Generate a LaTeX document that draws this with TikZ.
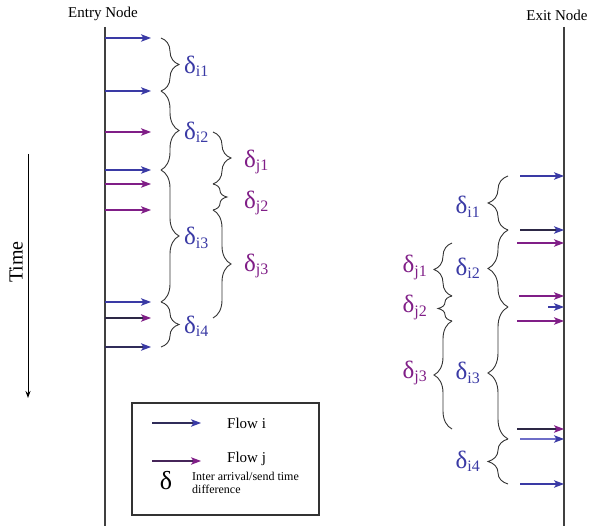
\documentclass[tikz,border=0pt]{standalone}
\usepackage{fontspec}
\setmainfont{Liberation Serif}
\usetikzlibrary{arrows.meta,decorations.pathreplacing,calc}
\definecolor{fi}{RGB}{58,58,165}
\definecolor{fj}{RGB}{128,30,135}
\definecolor{dk}{RGB}{45,40,70}
\definecolor{lb}{RGB}{110,110,200}
\newcommand\dsub[1]{\fontsize{25}{25}\selectfont δ\raisebox{-3.5pt}{\fontsize{16}{16}\selectfont #1}}
\begin{document}
\begin{tikzpicture}[x=1pt,y=-1pt,
  axis/.style={line width=1.2pt,draw=black!75},
  ar/.style={line width=1.1pt,-{Stealth[length=10pt,width=7.5pt,inset=2.5pt]}},
  ari/.style={ar,draw=fi},
  arj/.style={ar,draw=fj},
  bri/.style={decorate,decoration={brace,amplitude=18pt},line width=0.9pt,draw=black!80},
  brr/.style={decorate,decoration={brace,amplitude=20pt},line width=0.9pt,draw=black!80},
  labi/.style={inner sep=0pt,text=fi},
  labj/.style={inner sep=0pt,text=fj},
  txt/.style={inner sep=0pt,font=\fontsize{15}{15}\selectfont},
]
\useasboundingbox (0,0) rectangle (591,526);

% node lines
\node[txt] (entry) at (103,14) {Entry Node};
\node[txt] (exit) at (557,15) {Exit Node};
\coordinate (et) at (105,27); \coordinate (eb) at (105,526);
\coordinate (xt) at (564,27); \coordinate (xb) at (564,526);
\draw[axis] (et) -- (eb);
\draw[axis] (xt) -- (xb);

% time
\coordinate (tt) at (28,154); \coordinate (tb) at (28,398);
\draw[line width=1pt,-{Stealth[length=7pt,width=5pt]}] (tt) -- (tb);
\node[txt,rotate=90,font=\fontsize{20}{20}\selectfont] (time) at (16,262) {Time};

% left arrows
\foreach \n/\y in {1/38,2/91,3/132,4/170,5/184,6/210,7/302,8/318,9/347}{
  \coordinate (la\n) at (105,\y); \coordinate (lh\n) at (151,\y);
  \coordinate (lbi\n) at (161,\y); \coordinate (lbj\n) at (213,\y);
}
\draw[ari] (la1) -- (lh1);
\draw[ari] (la2) -- (lh2);
\draw[arj] (la3) -- (lh3);
\draw[ari] (la4) -- (lh4);
\draw[arj] (la5) -- (lh5);
\draw[arj] (la6) -- (lh6);
\draw[ari] (la7) -- (lh7);
\draw[ar,draw=dk,-{Stealth[length=10pt,width=7.5pt,inset=2.5pt,color=fj]}] (la8) -- (lh8);
\draw[ar,draw=dk!80!fi,-{Stealth[length=10pt,width=7.5pt,inset=2.5pt,color=fi]}] (la9) -- (lh9);

% left braces
\draw[bri] (lbi1) -- (lbi2);
\draw[bri] (lbi2) -- (lbi4);
\draw[bri] (lbi4) -- (lbi7);
\draw[bri] (lbi7) -- (lbi9);
\draw[bri] (lbj3) -- (lbj5);
\draw[bri,decoration={brace,amplitude=14pt}] (lbj5) -- (lbj6);
\draw[bri] (lbj6) -- (lbj8);
\node[labi,anchor=west] (ldi1) at ($(lbi1)!0.5!(lbi2)+(23,2)$) {\dsub{i1}};
\node[labi,anchor=west] (ldi2) at ($(lbi2)!0.5!(lbi4)+(23,2)$) {\dsub{i2}};
\node[labi,anchor=west] (ldi3) at ($(lbi4)!0.5!(lbi7)+(23,2)$) {\dsub{i3}};
\node[labi,anchor=west] (ldi4) at ($(lbi7)!0.5!(lbi9)+(23,2)$) {\dsub{i4}};
\node[labj,anchor=west] (ldj1) at ($(lbj3)!0.5!(lbj5)+(31,4)$) {\dsub{j1}};
\node[labj,anchor=west] (ldj2) at ($(lbj5)!0.5!(lbj6)+(31,6)$) {\dsub{j2}};
\node[labj,anchor=west] (ldj3) at ($(lbj6)!0.5!(lbj8)+(31,2)$) {\dsub{j3}};

% right arrows
\foreach \n/\y/\t in {1/176/520,2/230/520,3/243/517,4/296/519,5/307/548,6/321/517,7/429/517,8/439/520,9/484/520}{
  \coordinate (ra\n) at (\t,\y); \coordinate (rh\n) at (564,\y);
  \coordinate (rbi\n) at (508,\y); \coordinate (rbj\n) at (452,\y);
}
\draw[ari] (ra1) -- (rh1);
\draw[ar,draw=dk,-{Stealth[length=10pt,width=7.5pt,inset=2.5pt,color=fi]}] (ra2) -- (rh2);
\draw[arj] (ra3) -- (rh3);
\draw[arj] (ra4) -- (rh4);
\draw[ari] (ra5) -- (rh5);
\draw[arj] (ra6) -- (rh6);
\draw[ar,draw=dk,-{Stealth[length=10pt,width=7.5pt,inset=2.5pt,color=fj]}] (ra7) -- (rh7);
\draw[ar,draw=lb,-{Stealth[length=10pt,width=7.5pt,inset=2.5pt,color=fi]}] (ra8) -- (rh8);
\draw[ari] (ra9) -- (rh9);

% right braces
\draw[brr] (rbi2) -- (rbi1);
\draw[brr] (rbi5) -- (rbi2);
\draw[brr] (rbi8) -- (rbi5);
\draw[brr] (rbi9) -- (rbi8);
\draw[bri] (rbj4) -- (rbj3);
\draw[bri,decoration={brace,amplitude=14pt}] (rbj6) -- (rbj4);
\draw[bri] (rbj7) -- (rbj6);
\node[labi,anchor=east] (rdi1) at ($(rbi1)!0.5!(rbi2)+(-28,4)$) {\dsub{i1}};
\node[labi,anchor=east] (rdi2) at ($(rbi2)!0.5!(rbi5)+(-28,0)$) {\dsub{i2}};
\node[labi,anchor=east] (rdi3) at ($(rbi5)!0.5!(rbi8)+(-28,0)$) {\dsub{i3}};
\node[labi,anchor=east] (rdi4) at ($(rbi8)!0.5!(rbi9)+(-28,0)$) {\dsub{i4}};
\node[labj,anchor=east] (rdj1) at ($(rbj3)!0.5!(rbj4)+(-25,-2)$) {\dsub{j1}};
\node[labj,anchor=east] (rdj2) at ($(rbj4)!0.5!(rbj6)+(-25,-1)$) {\dsub{j2}};
\node[labj,anchor=east] (rdj3) at ($(rbj6)!0.5!(rbj7)+(-25,-2)$) {\dsub{j3}};

% legend
\node[draw=black!80,line width=1.2pt,minimum width=187pt,minimum height=112pt,inner sep=0pt] (leg) at (225.5,459) {};
\coordinate (gi1) at (152,423); \coordinate (gi2) at (201,423);
\coordinate (gj1) at (152,461); \coordinate (gj2) at (201,461);
\draw[ar,draw=dk!80!fi,-{Stealth[length=10pt,width=7.5pt,inset=2.5pt,color=fi]}] (gi1) -- (gi2);
\draw[ar,draw=dk!70!fj,-{Stealth[length=10pt,width=7.5pt,inset=2.5pt,color=fj]}] (gj1) -- (gj2);
\node[txt,anchor=west] (lfi) at (227,423) {Flow i};
\node[txt,anchor=west] (lfj) at (227,459) {Flow j};
\node[inner sep=0pt,font=\fontsize{26}{26}\selectfont] (ldel) at (166,481) {δ};
\node[inner sep=0pt,anchor=west,align=left,font=\fontsize{12}{12.5}\selectfont] (ldesc) at (192,483) {Inter arrival/send time\\difference};
\end{tikzpicture}
\end{document}
